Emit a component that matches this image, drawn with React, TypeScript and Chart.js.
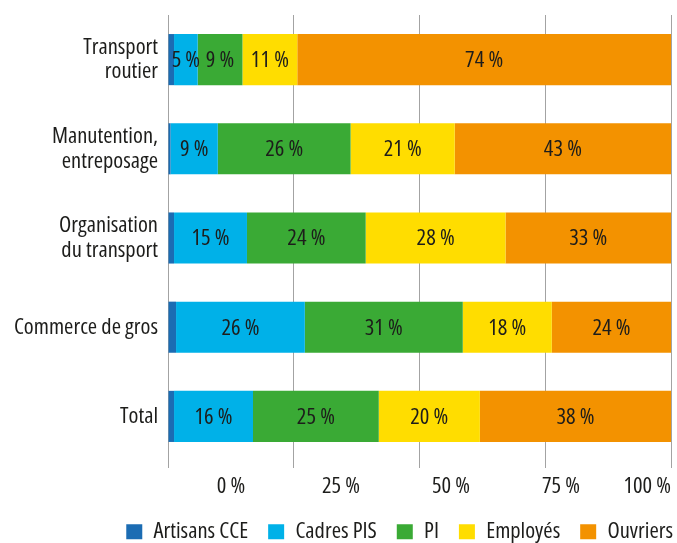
import React, { useEffect, useRef } from 'react';
import { Chart, registerables } from 'chart.js';

Chart.register(...registerables);

const FAMILY = "'Open Sans', sans-serif";
const STRETCH = 'condensed';
const FONT_SIZE = 22.5;
const TEXT_COLOR = '#1d1d1b';

const categories: (string | string[])[] = [
  ['Transport', 'routier'],
  ['Manutention,', 'entreposage'],
  ['Organisation', 'du transport'],
  'Commerce de gros',
  'Total',
];
const seriesNames = ['Artisans CCE', 'Cadres PIS', 'PI', 'Employés', 'Ouvriers'];
const artisans = [1.2, 0.5, 1.2, 1.6, 1.2];
const cadres = [4.7, 9.4, 14.5, 25.6, 15.7];
const pi = [8.9, 26.4, 23.6, 31.4, 25.0];
const employes = [10.9, 20.7, 27.8, 17.7, 20.1];
const ouvriers = [74.3, 43.0, 32.9, 23.7, 38.0];
const seriesColors = ['#1b6cb3', '#00b1e8', '#3aaa35', '#ffdd00', '#f39200'];
const labeledSeries = [false, true, true, true, true];
const xTicks = [0, 25, 50, 75, 100];
const X2_MIN = -14.3;

const LEGEND_PAD = 20;
const CANVAS_W = 677 + LEGEND_PAD - 4;
const CANVAS_H = 553;

const font = (extra: any = {}) => ({ family: FAMILY, weight: STRETCH, size: FONT_SIZE, ...extra });

const valueLabels = {
  id: 'valueLabels',
  afterDatasetsDraw(chart: any) {
    const ctx = chart.ctx;
    ctx.save();
    ctx.font = `${STRETCH} ${FONT_SIZE}px ${FAMILY}`;
    ctx.fillStyle = TEXT_COLOR;
    ctx.textAlign = 'center';
    ctx.textBaseline = 'middle';
    chart.data.datasets.forEach((ds: any, di: number) => {
      if (!labeledSeries[di]) return;
      const meta = chart.getDatasetMeta(di);
      meta.data.forEach((el: any, i: number) => {
        const { x, y, base } = el.getProps(['x', 'y', 'base'], true);
        ctx.fillText(`${Math.round(ds.data[i])} %`, (x + base) / 2, y + 1);
      });
    });
    ctx.restore();
  },
};

export default function App() {
  const ref = useRef<HTMLCanvasElement | null>(null);
  useEffect(() => {
    if (!ref.current) return;
    const values = [artisans, cadres, pi, employes, ouvriers];
    const chart = new Chart(ref.current, {
      type: 'bar',
      data: {
        labels: categories,
        datasets: seriesNames.map((name, i) => ({
          label: name,
          data: values[i],
          backgroundColor: seriesColors[i],
          borderWidth: 0,
          barPercentage: 0.573,
          categoryPercentage: 1,
        })),
      },
      options: {
        indexAxis: 'y',
        animation: false,
        responsive: false,
        layout: { padding: { top: 15, right: 0, left: 0, bottom: 0 } },
        plugins: {
          legend: {
            position: 'bottom',
            align: 'end',
            labels: {
              boxWidth: 16,
              boxHeight: 15,
              padding: LEGEND_PAD,
              color: TEXT_COLOR,
              font: font(),
            },
          },
          tooltip: { enabled: false },
        },
        scales: {
          x: {
            stacked: true,
            min: 0,
            max: 100,
            ticks: { display: false, stepSize: 25 },
            grid: { color: '#a3a3a3', lineWidth: 1, tickLength: 7 },
            border: { display: false },
            afterFit: (axis: any) => {
              axis.paddingRight = CANVAS_W - 671;
            },
          },
          x2: {
            type: 'linear',
            position: 'bottom',
            min: X2_MIN,
            max: 100,
            grid: { display: false, drawTicks: false },
            border: { display: false },
            afterBuildTicks: (axis: any) => {
              axis.ticks = [X2_MIN, ...xTicks].map((v) => ({ value: v }));
            },
            afterFit: (axis: any) => {
              axis.height = axis.height - 4.5;
            },
            ticks: {
              align: 'inner',
              autoSkip: false,
              maxRotation: 0,
              padding: 5,
              color: TEXT_COLOR,
              font: font(),
              callback: (v: any) => (v === X2_MIN ? '' : `${v} %`),
            },
          },
          y: {
            stacked: true,
            grid: { display: false, drawTicks: false },
            border: { display: false },
            ticks: { padding: 10, color: TEXT_COLOR, font: font({ lineHeight: 1.1 }) },
            afterFit: (axis: any) => {
              axis.width = 168;
              axis.paddingTop = 0;
              axis.paddingBottom = 0;
            },
          },
        },
      } as any,
      plugins: [valueLabels],
    });
    return () => chart.destroy();
  }, []);
  return (
    <div style={{ position: 'absolute', left: 0, top: 0, width: 677, height: 543, overflow: 'hidden' }}>
      <canvas ref={ref} width={CANVAS_W} height={CANVAS_H} style={{ display: 'block' }} />
    </div>
  );
}
